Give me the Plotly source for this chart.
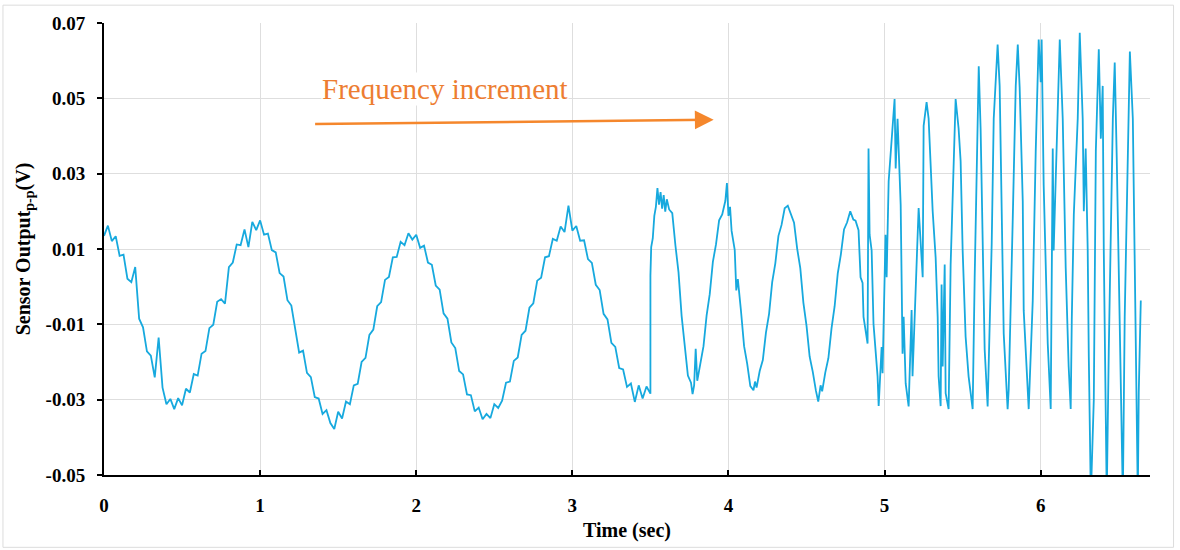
import plotly.graph_objects as go

# ---------------- data ----------------
seg1_time = [
    0.000, 0.025, 0.050, 0.075, 0.100, 0.125, 0.150, 0.175, 0.200, 0.225,
    0.250, 0.275, 0.300, 0.325, 0.350, 0.375, 0.400, 0.425, 0.450, 0.475,
    0.500, 0.525, 0.550, 0.575, 0.600, 0.625, 0.650, 0.675, 0.700, 0.725,
    0.750, 0.775, 0.800, 0.825, 0.850, 0.875, 0.900, 0.925, 0.950, 0.975,
    1.000, 1.025, 1.050, 1.075, 1.100, 1.125, 1.150, 1.175, 1.200, 1.225,
    1.250, 1.275, 1.300, 1.325, 1.350, 1.375, 1.400, 1.425, 1.450, 1.475,
    1.500, 1.525, 1.550, 1.575, 1.600, 1.625, 1.650, 1.675, 1.700, 1.725,
    1.750, 1.775, 1.800, 1.825, 1.850, 1.875, 1.900, 1.925, 1.950, 1.975,
    2.000, 2.025, 2.050, 2.075, 2.100, 2.125, 2.150, 2.175, 2.200, 2.225,
    2.250, 2.275, 2.300, 2.325, 2.350, 2.375, 2.400, 2.425, 2.450, 2.475,
    2.500, 2.525, 2.550, 2.575, 2.600, 2.625, 2.650, 2.675, 2.700, 2.725,
    2.750, 2.775, 2.800, 2.825, 2.850, 2.875, 2.900, 2.925, 2.950, 2.975,
    3.000, 3.025, 3.050, 3.075, 3.100, 3.125, 3.150, 3.175, 3.200, 3.225,
    3.250, 3.275, 3.300, 3.325, 3.350, 3.375, 3.400, 3.425, 3.450, 3.475,
    3.500,
]
seg1_volt = [
    0.0135, 0.0162, 0.0121, 0.0134, 0.0082, 0.0085, 0.0021, 0.0012, 0.0052, -0.0085,
    -0.0108, -0.0172, -0.0183, -0.0241, -0.0135, -0.0268, -0.0312, -0.0298, -0.0325, -0.0296,
    -0.0315, -0.0271, -0.0281, -0.0232, -0.0236, -0.0178, -0.0171, -0.0110, -0.0101, -0.0040,
    -0.0033, -0.0045, 0.0052, 0.0064, 0.0112, 0.0110, 0.0152, 0.0105, 0.0172, 0.0150,
    0.0176, 0.0138, 0.0141, 0.0097, 0.0091, 0.0036, 0.0027, -0.0036, -0.0050, -0.0117,
    -0.0175, -0.0170, -0.0229, -0.0240, -0.0293, -0.0297, -0.0338, -0.0328, -0.0362, -0.0378,
    -0.0332, -0.0350, -0.0305, -0.0312, -0.0262, -0.0258, -0.0200, -0.0189, -0.0128, -0.0114,
    -0.0052, -0.0041, 0.0018, 0.0026, 0.0078, 0.0079, 0.0119, 0.0110, 0.0142, 0.0125,
    0.0138, 0.0103, 0.0109, 0.0064, 0.0058, 0.0003, -0.0008, -0.0071, -0.0085, -0.0148,
    -0.0163, -0.0224, -0.0233, -0.0286, -0.0288, -0.0331, -0.0321, -0.0352, -0.0338, -0.0349,
    -0.0312, -0.0322, -0.0303, -0.0255, -0.0252, -0.0197, -0.0188, -0.0128, -0.0117, -0.0056,
    -0.0044, 0.0016, 0.0024, 0.0078, 0.0081, 0.0127, 0.0122, 0.0160, 0.0145, 0.0215,
    0.0149, 0.0161, 0.0122, 0.0123, 0.0073, 0.0063, 0.0005, -0.0009, -0.0072, -0.0087,
    -0.0149, -0.0160, -0.0216, -0.0220, -0.0266, -0.0257, -0.0306, -0.0262, -0.0297, -0.0265,
    -0.0284,
]

seg2_time = [
    3.500, 3.505, 3.515, 3.525, 3.535, 3.545, 3.555, 3.565, 3.575, 3.585,
    3.595, 3.605, 3.620, 3.640, 3.660, 3.680, 3.700, 3.720, 3.740, 3.760,
    3.770, 3.780, 3.790, 3.800, 3.820, 3.840, 3.860, 3.880, 3.900, 3.920,
    3.940, 3.960, 3.980, 3.990, 4.000, 4.010, 4.020, 4.040, 4.050, 4.060,
    4.080, 4.100, 4.120, 4.140, 4.160, 4.170, 4.180, 4.200, 4.220, 4.240,
    4.260, 4.280, 4.300, 4.320, 4.340, 4.360, 4.380, 4.400, 4.420, 4.440,
    4.460, 4.480, 4.500, 4.520, 4.540, 4.560, 4.575, 4.590, 4.600, 4.620,
    4.640, 4.660, 4.680, 4.700, 4.720, 4.740, 4.760, 4.780, 4.800,
]
seg2_volt = [
    0.0030, 0.0105, 0.0128, 0.0188, 0.0212, 0.0262, 0.0218, 0.0251, 0.0207, 0.0243,
    0.0199, 0.0232, 0.0205, 0.0195, 0.0110, 0.0038, -0.0078, -0.0150, -0.0236, -0.0255,
    -0.0285, -0.0262, -0.0165, -0.0250, -0.0198, -0.0158, -0.0076, -0.0020, 0.0066, 0.0112,
    0.0176, 0.0192, 0.0228, 0.0275, 0.0188, 0.0212, 0.0148, 0.0098, -0.0010, 0.0020,
    -0.0064, -0.0158, -0.0205, -0.0264, -0.0275, -0.0252, -0.0268, -0.0224, -0.0195, -0.0122,
    -0.0072, 0.0012, 0.0062, 0.0135, 0.0164, 0.0208, 0.0215, 0.0190, 0.0170, 0.0101,
    0.0049, -0.0043, -0.0104, -0.0186, -0.0226, -0.0276, -0.0305, -0.0262, -0.0278, -0.0228,
    -0.0190, -0.0111, -0.0052, 0.0035, 0.0086, 0.0152, 0.0171, 0.0200, 0.0178,
]

seg3_time = [
    4.814, 4.833, 4.846, 4.859, 4.865, 4.891, 4.897, 4.904, 4.917, 4.929,
    4.955, 4.962, 4.981, 4.987, 5.006, 5.013, 5.026, 5.051, 5.064, 5.071,
    5.083, 5.103, 5.115, 5.122, 5.135, 5.154, 5.173, 5.179, 5.199, 5.218,
    5.244, 5.250, 5.269, 5.282, 5.308, 5.327, 5.340, 5.346, 5.359, 5.365,
    5.372, 5.385, 5.391, 5.410, 5.423, 5.436, 5.455, 5.474, 5.487, 5.500,
    5.519, 5.538, 5.564, 5.577, 5.603, 5.615, 5.628, 5.641, 5.660, 5.673,
    5.686, 5.699, 5.724, 5.737, 5.763, 5.788, 5.795, 5.821, 5.840, 5.853,
    5.865, 5.885, 5.891, 5.923, 5.949, 5.968, 5.981, 5.987, 6.000, 6.006,
    6.019, 6.045, 6.064, 6.077, 6.083, 6.109, 6.122, 6.141, 6.160, 6.179,
    6.192, 6.199, 6.212, 6.237, 6.250, 6.269, 6.276, 6.288, 6.301, 6.308,
    6.321, 6.340, 6.353, 6.372, 6.385, 6.397, 6.404, 6.423, 6.436, 6.462,
    6.474, 6.487, 6.494, 6.506, 6.526, 6.538, 6.558, 6.571, 6.590, 6.603,
    6.622, 6.628, 6.641,
]
seg3_volt = [
    0.0175, 0.0150, 0.0025, 0.0010, -0.0080, -0.0151, 0.0367, 0.0138, 0.0096, -0.0099,
    -0.0238, -0.0317, -0.0160, -0.0230, 0.0138, 0.0025, 0.0280, 0.0420, 0.0498, 0.0314,
    0.0446, 0.0217, -0.0178, -0.0080, -0.0257, -0.0318, -0.0062, -0.0238, 0.0017, 0.0209,
    0.0025, 0.0427, 0.0490, 0.0446, 0.0200, 0.0077, -0.0080, -0.0238, -0.0317, 0.0006,
    -0.0212, 0.0059, -0.0283, -0.0325, 0.0059, 0.0261, 0.0498, 0.0420, 0.0333, 0.0096,
    -0.0133, -0.0238, -0.0325, 0.0025, 0.0585, 0.0420, 0.0096, -0.0167, -0.0318, -0.0080,
    0.0112, 0.0446, 0.0643, 0.0533, -0.0125, -0.0325, -0.0273, 0.0182, 0.0533, 0.0643,
    0.0530, 0.0227, -0.0063, -0.0325, -0.0037, 0.0359, 0.0622, 0.0656, 0.0543, 0.0656,
    0.0270, -0.0151, -0.0325, 0.0367, 0.0096, 0.0490, 0.0656, 0.0446, 0.0051, -0.0212,
    -0.0325, -0.0088, 0.0191, 0.0446, 0.0674, 0.0446, 0.0200, 0.0367, 0.0096, -0.0186,
    -0.0560, -0.0300, 0.0360, 0.0630, 0.0393, 0.0533, 0.0096, -0.0560, -0.0168, 0.0446,
    0.0595, 0.0340, 0.0180, -0.0168, -0.0560, -0.0080, 0.0360, 0.0624, 0.0446, 0.0006,
    -0.0560, -0.0280, -0.0037,
]

x_tick_vals = [0, 1, 2, 3, 4, 5, 6]
x_tick_text = ["0", "1", "2", "3", "4", "5", "6"]
y_tick_vals = [-0.05, -0.03, -0.01, 0.01, 0.03, 0.05, 0.07]
y_tick_text = ["-0.05", "-0.03", "-0.01", "0.01", "0.03", "0.05", "0.07"]

x_title = "Time (sec)"
y_title = "Sensor Output<sub>p-p</sub>(V)"
note_text = "Frequency increment"

# ---------------- figure ----------------
time_all = seg1_time + seg2_time + seg3_time
volt_all = seg1_volt + seg2_volt + seg3_volt

SERIF = "Liberation Serif"
LINE_COLOR = "#17a9de"
ORANGE = "#ED7D31"

fig = go.Figure()
fig.add_trace(go.Scatter(
    x=time_all, y=volt_all, mode="lines",
    line=dict(color=LINE_COLOR, width=1.8),
    hoverinfo="skip", showlegend=False,
))

# annotation text and arrow
fig.add_annotation(
    x=2.185, y=0.0525, xref="x", yref="y",
    text=note_text, showarrow=False,
    font=dict(family=SERIF, size=29, color=ORANGE),
    xanchor="center", yanchor="middle",
    bgcolor="white", borderpad=0,
)
fig.add_annotation(
    x=3.905, y=0.0443, xref="x", yref="y",
    ax=1.333, ay=0.0432, axref="x", ayref="y",
    text=" ", showarrow=True,
    arrowhead=2, arrowsize=1.5, arrowwidth=2.5, arrowcolor="#F5872C",
)

# light frame around the whole picture
fig.add_shape(
    type="rect", xref="paper", yref="paper",
    x0=-0.0966, x1=1.0225, y0=-0.16, y1=1.0395,
    line=dict(color="#dcdcdc", width=1), layer="below",
)

fig.update_layout(
    width=1180, height=550,
    margin=dict(l=104, r=30, t=23, b=71),
    paper_bgcolor="white", plot_bgcolor="white",
    font=dict(family=SERIF, color="black"),
)
fig.update_xaxes(
    range=[0, 6.7],
    tickvals=x_tick_vals, ticktext=x_tick_text,
    tickfont=dict(family=SERIF, size=19, weight="bold"),
    ticks="inside", ticklen=5, tickwidth=2, tickcolor="black",
    ticklabelstandoff=12,
    showline=True, linecolor="black", linewidth=2,
    showgrid=True, gridcolor="#dedede", gridwidth=1,
    zeroline=False,
    title=dict(text=x_title, font=dict(family=SERIF, size=20, weight="bold"), standoff=8),
)
fig.update_yaxes(
    range=[-0.05, 0.07],
    tickvals=y_tick_vals, ticktext=y_tick_text,
    tickfont=dict(family=SERIF, size=19, weight="bold"),
    ticks="outside", ticklen=5, tickwidth=2, tickcolor="black",
    ticklabelstandoff=8,
    showline=True, linecolor="black", linewidth=2,
    showgrid=True, gridcolor="#dedede", gridwidth=1,
    zeroline=False,
    title=dict(text=y_title, font=dict(family=SERIF, size=20, weight="bold"), standoff=10),
)

fig.write_html("out.html", config={"displayModeBar": False},
               post_script="document.body.style.margin='0';")
